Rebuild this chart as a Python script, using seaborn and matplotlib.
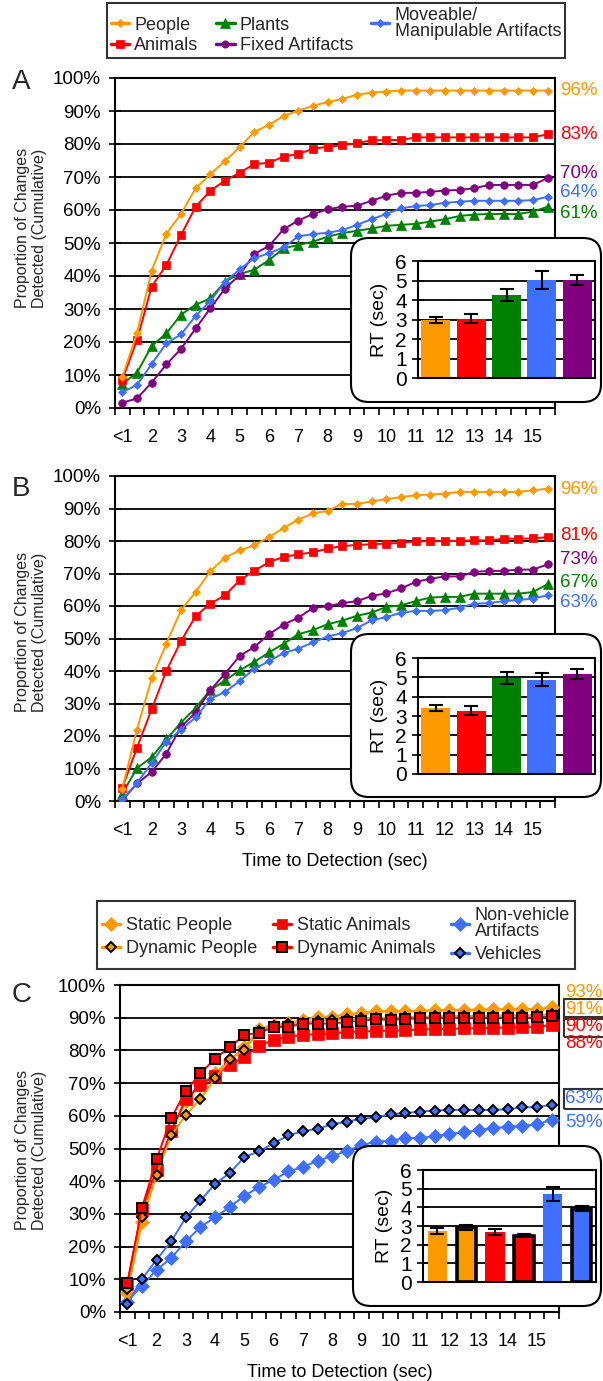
import numpy as np
import pandas as pd
import matplotlib
matplotlib.use("Agg")
import matplotlib.pyplot as plt
import matplotlib.transforms as mtransforms
from matplotlib.patches import FancyBboxPatch
from matplotlib.lines import Line2D
from matplotlib.ticker import PercentFormatter
import seaborn as sns

# ---------------------------------------------------------------- data
# 30 half-second bins; label shown on every second bin
time_bins = list(range(30))
time_tick_labels = ["<1", "2", "3", "4", "5", "6", "7", "8", "9", "10",
                    "11", "12", "13", "14", "15"]

# Panel A (percent, cumulative)
a_people = [9.4, 22.7, 41.6, 52.8, 58.8, 66.6, 70.8, 74.9, 79.0, 83.7, 85.8, 88.5, 90.1, 91.6, 92.7,
            93.7, 94.9, 95.6, 95.9, 96.2, 96.2, 96.2, 96.2, 96.2, 96.2, 96.2, 96.2, 96.2, 96.2, 96.2]
a_animals = [8.5, 20.6, 36.8, 43.3, 52.4, 61.0, 65.8, 68.9, 71.3, 73.9, 74.3, 76.2, 77.0, 78.5, 79.2,
             79.6, 80.3, 81.1, 81.2, 81.2, 82.0, 82.0, 82.0, 82.0, 82.0, 82.0, 82.0, 82.0, 82.0, 83.0]
a_plants = [7.3, 10.7, 18.8, 22.6, 28.3, 31.3, 33.2, 38.3, 40.6, 41.9, 44.8, 48.4, 49.4, 50.4, 51.9,
            53.0, 53.7, 54.4, 55.2, 55.5, 55.8, 56.5, 57.2, 58.2, 58.6, 58.8, 58.8, 58.8, 59.5, 61.0]
a_fixed = [1.6, 2.9, 7.7, 13.2, 17.9, 24.1, 30.2, 36.2, 40.3, 46.7, 49.1, 54.2, 56.8, 58.8, 60.2,
           61.0, 61.3, 62.8, 64.3, 65.2, 65.2, 65.5, 65.9, 66.1, 66.6, 67.6, 67.6, 67.6, 67.6, 69.7]
a_moveable = [4.8, 7.0, 13.3, 19.6, 22.3, 27.9, 32.4, 38.3, 42.0, 45.4, 46.9, 48.7, 52.0, 52.7, 53.1,
              53.9, 55.5, 57.2, 58.8, 60.5, 61.2, 61.5, 62.2, 62.5, 62.8, 62.8, 62.8, 62.8, 63.0, 64.0]

# Panel B
b_people = [3.8, 22.0, 37.7, 48.4, 58.7, 64.3, 70.7, 74.9, 77.1, 78.7, 81.2, 84.0, 86.6, 88.5, 89.3,
            91.4, 91.4, 92.2, 92.9, 93.5, 94.1, 94.3, 94.6, 95.1, 95.1, 95.1, 95.1, 95.1, 95.6, 96.1]
b_animals = [4.1, 16.4, 28.2, 40.0, 49.2, 56.9, 60.7, 63.3, 67.9, 70.8, 73.5, 75.1, 75.9, 76.5, 77.7,
             78.4, 78.8, 79.0, 79.2, 79.4, 79.9, 79.9, 80.0, 80.0, 80.2, 80.2, 80.7, 80.7, 80.8, 81.2]
b_plants = [2.3, 10.1, 13.5, 19.0, 24.1, 28.7, 34.1, 37.1, 40.2, 42.8, 45.7, 48.4, 51.3, 52.6, 54.4,
            55.5, 57.0, 58.0, 59.7, 60.2, 61.5, 62.6, 62.8, 62.8, 63.8, 63.8, 63.8, 63.8, 64.3, 66.7]
b_fixed = [0.2, 5.4, 8.9, 14.6, 22.8, 27.2, 34.1, 39.2, 44.6, 47.4, 51.3, 54.3, 56.4, 59.4, 59.9,
           60.9, 61.5, 63.1, 63.9, 65.4, 67.4, 68.4, 69.1, 69.1, 70.5, 70.8, 70.8, 71.2, 71.2, 72.8]
b_moveable = [0.5, 5.5, 11.7, 18.2, 22.0, 25.7, 31.5, 33.5, 36.9, 40.7, 43.0, 45.5, 46.9, 48.8, 50.6,
              51.7, 53.2, 55.6, 56.6, 57.9, 58.5, 58.5, 58.7, 59.5, 60.7, 60.9, 61.5, 61.8, 62.3, 63.3]

# Panel C
c_static_people = [5.8, 27.4, 42.3, 55.0, 64.5, 69.5, 73.0, 77.0, 81.0, 86.5, 87.8, 88.3, 89.3, 90.3, 90.3,
                   91.1, 91.4, 92.1, 91.9, 92.0, 92.2, 92.3, 92.4, 92.5, 92.5, 92.6, 92.6, 92.7, 92.7, 93.2]
c_dynamic_people = [7.0, 29.2, 42.0, 54.0, 60.3, 65.1, 71.5, 77.3, 80.1, 86.0, 87.5, 88.0, 88.5, 89.0, 89.3,
                    89.6, 89.8, 90.0, 90.0, 90.2, 90.3, 90.4, 90.5, 90.5, 90.6, 90.6, 90.7, 90.7, 90.8, 91.0]
c_static_animals = [8.6, 31.3, 43.5, 55.4, 65.1, 69.5, 72.2, 75.6, 77.9, 81.4, 83.2, 84.2, 84.7, 85.0, 85.2,
                    85.7, 85.7, 86.0, 86.0, 86.2, 86.4, 86.5, 86.6, 86.7, 86.8, 86.9, 87.0, 87.1, 87.2, 87.8]
c_dynamic_animals = [8.9, 31.8, 46.7, 59.3, 67.6, 73.0, 77.5, 81.0, 84.7, 85.4, 87.1, 87.2, 88.2, 88.2, 88.2,
                     88.7, 89.1, 89.5, 89.3, 89.6, 89.8, 89.9, 89.9, 89.9, 90.0, 90.0, 90.0, 90.0, 90.1, 90.4]
c_nonvehicle = [3.2, 8.0, 12.9, 16.5, 21.6, 26.0, 29.0, 32.1, 35.5, 38.2, 40.4, 43.0, 44.3, 46.3, 47.6,
                49.3, 51.0, 52.1, 52.4, 53.2, 53.2, 53.7, 54.5, 54.9, 55.7, 56.2, 56.7, 56.9, 57.4, 58.8]
c_vehicles = [2.4, 10.1, 16.0, 21.6, 28.9, 34.1, 39.2, 42.5, 47.4, 49.1, 51.6, 54.0, 55.3, 56.0, 57.4,
              58.2, 59.1, 59.5, 60.5, 60.8, 61.3, 61.6, 61.8, 61.8, 61.8, 61.8, 62.0, 62.6, 62.6, 63.4]

# Inset RT bars (sec) with error bars
ab_rt_categories = ["People", "Animals", "Plants", "Moveable", "Fixed"]
a_rt = [2.98, 3.05, 4.26, 5.03, 5.03]
a_rt_err = [0.17, 0.23, 0.32, 0.45, 0.27]
b_rt = [3.41, 3.28, 4.96, 4.88, 5.17]
b_rt_err = [0.17, 0.22, 0.30, 0.33, 0.26]
c_rt_categories = ["Static People", "Dynamic People", "Static Animals", "Dynamic Animals",
                   "Non-vehicle", "Vehicles"]
c_rt = [2.74, 2.92, 2.68, 2.48, 4.71, 3.92]
c_rt_err = [0.15, 0.16, 0.16, 0.08, 0.36, 0.13]

# ---------------------------------------------------------------- styles
ORANGE = "#FF9900"
RED = "#FF0000"
GREEN = "#008000"
PURPLE = "#800080"
BLUE = "#3F6FFF"

st_people = dict(color=ORANGE, marker="D", ms=4.5, mec=ORANGE, mfc=ORANGE, mew=0.5, z=7)
st_animals = dict(color=RED, marker="s", ms=6, mec=RED, mfc=RED, mew=0.5, z=6)
st_plants = dict(color=GREEN, marker="^", ms=7, mec=GREEN, mfc=GREEN, mew=0.5, z=3)
st_fixed = dict(color=PURPLE, marker="o", ms=5.5, mec=PURPLE, mfc=PURPLE, mew=0.5, z=4)
st_moveable = dict(color=BLUE, marker="D", ms=4.5, mec=BLUE, mfc=BLUE, mew=0.5, z=5)

st_s_people = dict(color=ORANGE, marker="D", ms=7, mec=ORANGE, mfc=ORANGE, mew=0.5, z=3)
st_d_people = dict(color=ORANGE, marker="D", ms=5.5, mec="black", mfc=ORANGE, mew=1.4, z=5)
st_s_animals = dict(color=RED, marker="s", ms=8, mec=RED, mfc=RED, mew=0.5, z=4)
st_d_animals = dict(color=RED, marker="s", ms=7.5, mec="black", mfc=RED, mew=1.4, z=6)
st_nonveh = dict(color=BLUE, marker="D", ms=7, mec=BLUE, mfc=BLUE, mew=0.5, z=3)
st_veh = dict(color=BLUE, marker="D", ms=5.5, mec="black", mfc=BLUE, mew=1.4, z=4)

sns.set_theme(style="white")
plt.rcParams["font.family"] = ["Liberation Sans", "DejaVu Sans"]

W, H = 603, 1381
fig = plt.figure(figsize=(W / 100, H / 100), dpi=100)
fig.patch.set_facecolor("white")


def frect(l, t, r, b):
    return [l / W, 1 - b / H, (r - l) / W, (b - t) / H]


def draw_series(ax, values, st):
    sns.lineplot(x=time_bins, y=values, ax=ax, color=st["color"], marker=st["marker"],
                 markersize=st["ms"], markeredgecolor=st["mec"], markerfacecolor=st["mfc"],
                 markeredgewidth=st["mew"], linewidth=1.4, zorder=st["z"], legend=False)


def style_main(ax):
    ax.set_xlim(-0.5, 29.5)
    ax.set_ylim(0, 100)
    ax.set_yticks(np.arange(0, 101, 10))
    ax.yaxis.set_major_formatter(PercentFormatter(100, decimals=0))
    ax.set_xticks(np.arange(-0.5, 30, 1.0))
    ax.set_xticklabels([])
    ax.set_xticks(time_bins[::2], minor=True)
    ax.set_xticklabels(time_tick_labels, minor=True)
    ax.tick_params(axis="x", which="major", direction="out", length=5, width=1.2,
                   color="black", bottom=True)
    ax.tick_params(axis="x", which="minor", length=0, pad=15, labelsize=13,
                   bottom=True, labelcolor="black")
    ax.tick_params(axis="y", direction="inout", length=8, width=1.2, labelsize=13.5,
                   pad=6, left=True, color="black", labelcolor="black")
    ax.grid(False)
    ax.yaxis.grid(True, color="black", linewidth=1.3)
    ax.set_axisbelow(True)
    for sp in ax.spines.values():
        sp.set_visible(True)
        sp.set_color("black")
        sp.set_linewidth(1.5)
    ax.set_xlabel("")
    ax.set_ylabel("")


def end_labels(ax, x_frac, items):
    tr = mtransforms.blended_transform_factory(ax.transAxes, ax.transData)
    for values, ypos, color, boxed in items:
        txt = f"{round(values[-1])}%"
        kw = {}
        if boxed:
            kw["bbox"] = dict(boxstyle="square,pad=0.08", fc="none", ec="#333333", lw=1.5)
        ax.text(x_frac, ypos, txt, transform=tr, color=color, fontsize=13.5,
                ha="left", va="center", clip_on=False, **kw)


def draw_inset(box, axrect, cats, rt, err, colors, edge_flags, width):
    l, t, r, b = box
    patch = FancyBboxPatch((l / 100, (H - b) / 100), (r - l) / 100, (b - t) / 100,
                           boxstyle="round,pad=0,rounding_size=0.18",
                           transform=fig.dpi_scale_trans, facecolor="white",
                           edgecolor="black", linewidth=1.5, zorder=5)
    fig.add_artist(patch)
    iax = fig.add_axes(frect(*axrect))
    iax.set_zorder(6)
    df = pd.DataFrame({"cat": cats, "rt": rt})
    sns.barplot(data=df, x="cat", y="rt", hue="cat", order=cats, hue_order=cats,
                palette=colors, legend=False, ax=iax, width=width, saturation=1,
                errorbar=None)
    centers = []
    for p, edged in zip(iax.patches, edge_flags):
        centers.append(p.get_x() + p.get_width() / 2)
        if edged:
            p.set_edgecolor("black")
            p.set_linewidth(2.6)
        else:
            p.set_linewidth(0)
    iax.errorbar(centers, rt, yerr=err, fmt="none", ecolor="black", elinewidth=1.5,
                 capsize=5, capthick=1.5, zorder=4)
    iax.set_xlim(-0.5, len(cats) - 0.5)
    iax.set_ylim(0, 6)
    iax.set_yticks(range(7))
    iax.tick_params(axis="y", direction="inout", length=8, width=1.2, labelsize=15,
                    pad=4, left=True, color="black", labelcolor="black")
    iax.tick_params(axis="x", length=0, labelbottom=False)
    iax.grid(False)
    iax.yaxis.grid(True, color="black", linewidth=1.3)
    iax.set_axisbelow(True)
    for sp in iax.spines.values():
        sp.set_visible(True)
        sp.set_color("black")
        sp.set_linewidth(1.5)
    iax.set_xlabel("")
    iax.set_ylabel("RT (sec)", fontsize=14, labelpad=5, color="black")
    return iax


def handle(st):
    return Line2D([], [], color=st["color"], marker=st["marker"], markersize=st["ms"] * 0.95,
                  markeredgecolor=st["mec"], markerfacecolor=st["mfc"],
                  markeredgewidth=st["mew"], linewidth=2.5)


def make_legend(handles, labels, center_y, colsp, lsp, bpad):
    leg = fig.legend(handles=handles, labels=labels, loc="center",
                     bbox_to_anchor=(336 / W, 1 - center_y / H), ncol=3, frameon=True,
                     fancybox=False, edgecolor="black", fontsize=13, handlelength=1.0,
                     handletextpad=0.3, columnspacing=colsp, labelspacing=lsp,
                     borderpad=bpad, borderaxespad=0)
    leg.get_frame().set_linewidth(1.5)
    for t in leg.get_texts():
        t.set_linespacing(0.95)
    return leg


ylab = "Proportion of Changes\nDetected (Cumulative)"
xlab = "Time to Detection (sec)"

# ---------------------------------------------------------------- legend A
make_legend([handle(st_people), handle(st_animals), handle(st_plants), handle(st_fixed),
             handle(st_moveable)],
            ["People", "Animals", "Plants", "Fixed Artifacts", "Moveable/\nManipulable Artifacts"],
            30.5, 1.0, 0.2, 0.2)

# ---------------------------------------------------------------- panel A
axA = fig.add_axes(frect(115, 78, 555, 408))
for vals, st in [(a_moveable, st_moveable), (a_plants, st_plants), (a_fixed, st_fixed),
                 (a_animals, st_animals), (a_people, st_people)]:
    draw_series(axA, vals, st)
style_main(axA)
end_labels(axA, 1.012, [(a_people, 96.1, ORANGE, False), (a_animals, 83.0, RED, False),
                        (a_fixed, 71.2, PURPLE, False), (a_moveable, 65.2, BLUE, False),
                        (a_plants, 58.8, GREEN, False)])
fig.text(31 / W, 1 - 228 / H, ylab, rotation=90, ha="center", va="center", fontsize=11.5,
         linespacing=1.1)
fig.text(12 / W, 1 - 82 / H, "A", fontsize=20, ha="left", va="center")
draw_inset((351, 238, 601, 402), (418, 261, 595, 378), ab_rt_categories, a_rt, a_rt_err,
           [ORANGE, RED, GREEN, BLUE, PURPLE], [False] * 5, 0.82)

# ---------------------------------------------------------------- panel B
axB = fig.add_axes(frect(115, 476, 555, 801))
for vals, st in [(b_moveable, st_moveable), (b_plants, st_plants), (b_fixed, st_fixed),
                 (b_animals, st_animals), (b_people, st_people)]:
    draw_series(axB, vals, st)
style_main(axB)
axB.set_xlabel(xlab, fontsize=13, labelpad=10, color="black")
end_labels(axB, 1.012, [(b_people, 95.9, ORANGE, False), (b_animals, 81.8, RED, False),
                        (b_fixed, 74.4, PURPLE, False), (b_plants, 67.3, GREEN, False),
                        (b_moveable, 61.1, BLUE, False)])
fig.text(31 / W, 1 - 632 / H, ylab, rotation=90, ha="center", va="center", fontsize=11.5,
         linespacing=1.1)
fig.text(12 / W, 1 - 489 / H, "B", fontsize=20, ha="left", va="center")
draw_inset((351, 634, 601, 797), (418, 658, 595, 774), ab_rt_categories, b_rt, b_rt_err,
           [ORANGE, RED, GREEN, BLUE, PURPLE], [False] * 5, 0.82)

# ---------------------------------------------------------------- legend C
make_legend([handle(st_s_people), handle(st_d_people), handle(st_s_animals), handle(st_d_animals),
             handle(st_nonveh), handle(st_veh)],
            ["Static People", "Dynamic People", "Static Animals", "Dynamic Animals",
             "Non-vehicle\nArtifacts", "Vehicles"],
            935, 0.9, 0.35, 0.3)

# ---------------------------------------------------------------- panel C
axC = fig.add_axes(frect(120, 985, 559, 1312))
for vals, st in [(c_nonvehicle, st_nonveh), (c_vehicles, st_veh), (c_static_people, st_s_people),
                 (c_static_animals, st_s_animals), (c_dynamic_people, st_d_people),
                 (c_dynamic_animals, st_d_animals)]:
    draw_series(axC, vals, st)
style_main(axC)
axC.set_xlabel(xlab, fontsize=13, labelpad=10, color="black")
end_labels(axC, 1.014, [(c_static_people, 97.6, ORANGE, False),
                        (c_dynamic_people, 92.6, ORANGE, True),
                        (c_dynamic_animals, 87.3, RED, True),
                        (c_static_animals, 82.0, RED, False),
                        (c_vehicles, 65.2, BLUE, True),
                        (c_nonvehicle, 57.9, BLUE, False)])
fig.text(31 / W, 1 - 1150 / H, ylab, rotation=90, ha="center", va="center", fontsize=11.5,
         linespacing=1.1)
fig.text(12 / W, 1 - 995 / H, "C", fontsize=20, ha="left", va="center")
draw_inset((353, 1146, 601, 1306), (423, 1170, 596, 1282), c_rt_categories, c_rt, c_rt_err,
           [ORANGE, ORANGE, RED, RED, BLUE, BLUE], [False, True, False, True, False, True], 0.67)

fig.savefig("out.png", dpi=100, facecolor="white")
